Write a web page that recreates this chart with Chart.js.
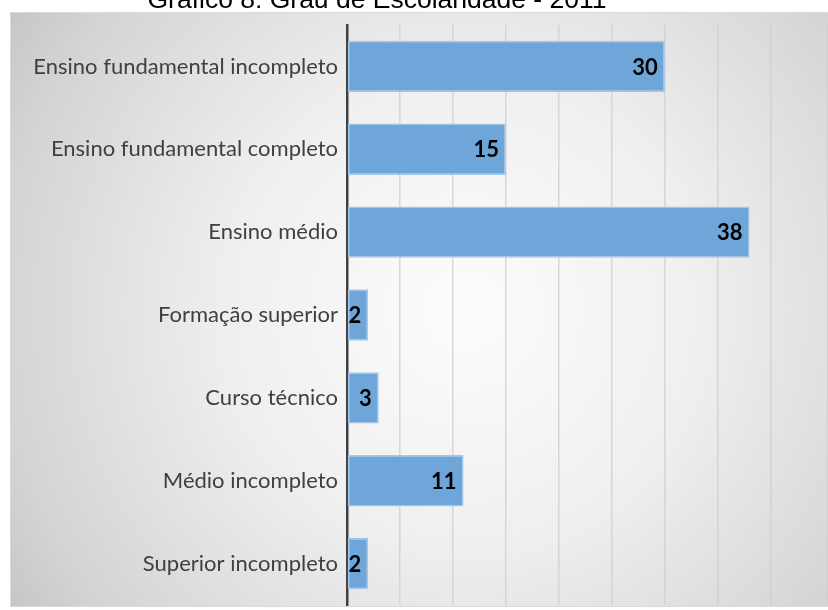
<html lang="pt">
<head>
  <meta charset="UTF-8" />
  <title>Gráfico 8: Grau de Escolaridade - 2011</title>
  <script src="https://cdn.jsdelivr.net/npm/chart.js"></script>
  <style>
    body { margin: 0; background: #ffffff; overflow: hidden; }
    .wrap { width: 828px; height: 610px; }
  </style>
</head>
<body>
<div class="wrap"><canvas id="chart" width="828" height="610"></canvas></div>

<script>
  const chartTitle = 'Gráfico 8: Grau de Escolaridade - 2011';
  const categories = [
    'Ensino fundamental incompleto',
    'Ensino fundamental completo',
    'Ensino médio',
    'Formação superior',
    'Curso técnico',
    'Médio incompleto',
    'Superior incompleto'
  ];
  const values = [30, 15, 38, 2, 3, 11, 2];

  // fundo cinza com degradê radial (estilo Excel)
  const frameBg = {
    id: 'frameBg',
    beforeDraw(chart) {
      const ctx = chart.ctx;
      const x0 = 10, y0 = 12, x1 = chart.width, y1 = 606;
      ctx.save();
      const g = ctx.createRadialGradient(465, 310, 10, 465, 310, 580);
      g.addColorStop(0, '#fcfcfc');
      g.addColorStop(0.4, '#efefef');
      g.addColorStop(0.8, '#d4d4d4');
      g.addColorStop(1, '#c0c0c0');
      ctx.fillStyle = g;
      ctx.fillRect(x0, y0, x1 - x0, y1 - y0);
      ctx.strokeStyle = '#dadada';
      ctx.lineWidth = 1;
      ctx.strokeRect(x0 + 0.5, y0 + 0.5, x1 - x0, y1 - y0);
      ctx.restore();
    },
    afterDraw(chart) {
      const ctx = chart.ctx;
      ctx.save();
      ctx.font = '26.5px "Liberation Sans", Arial, sans-serif';
      ctx.fillStyle = '#000';
      ctx.textAlign = 'center';
      ctx.textBaseline = 'alphabetic';
      ctx.fillText(chartTitle, 377, 8);
      ctx.restore();
    }
  };

  const barLabels = {
    id: 'barLabels',
    afterDatasetsDraw(chart) {
      const ctx = chart.ctx;
      const meta = chart.getDatasetMeta(0);
      ctx.save();
      ctx.font = 'bold 22px Lato, sans-serif';
      ctx.fillStyle = '#000';
      ctx.textAlign = 'right';
      ctx.textBaseline = 'middle';
      meta.data.forEach((bar, i) => {
        ctx.fillText(String(values[i]), bar.x - 7, bar.y + 1);
      });
      ctx.restore();
    }
  };

  new Chart(document.getElementById('chart'), {
    type: 'bar',
    data: {
      labels: categories,
      datasets: [{
        data: values,
        backgroundColor: '#6fa6d9',
        borderColor: '#a3c6e9',
        borderWidth: 1.5,
        borderSkipped: false,
        barPercentage: 0.62,
        categoryPercentage: 1
      }]
    },
    options: {
      indexAxis: 'y',
      responsive: false,
      animation: false,
      layout: { padding: { top: 25, bottom: 5, left: 0, right: 0 } },
      plugins: {
        legend: { display: false },
        tooltip: { enabled: false }
      },
      scales: {
        x: {
          min: 0,
          max: 45.4,
          afterFit(scale) {
            scale.height = 0;
            scale.paddingLeft = scale.paddingRight = 0;
          },
          ticks: { display: false, stepSize: 5 },
          grid: { color: 'rgba(205,205,205,0.75)', lineWidth: 1.5, drawTicks: false },
          border: { display: false }
        },
        y: {
          afterFit(scale) {
            scale.width = 347;
            scale.paddingTop = scale.paddingBottom = 0;
          },
          ticks: {
            color: '#404040',
            font: { family: 'Lato, sans-serif', size: 22 },
            padding: 9
          },
          grid: { display: false, drawTicks: false },
          border: { display: true, color: '#404040', width: 2.5 }
        }
      }
    },
    plugins: [frameBg, barLabels]
  });
</script>
</body>
</html>
